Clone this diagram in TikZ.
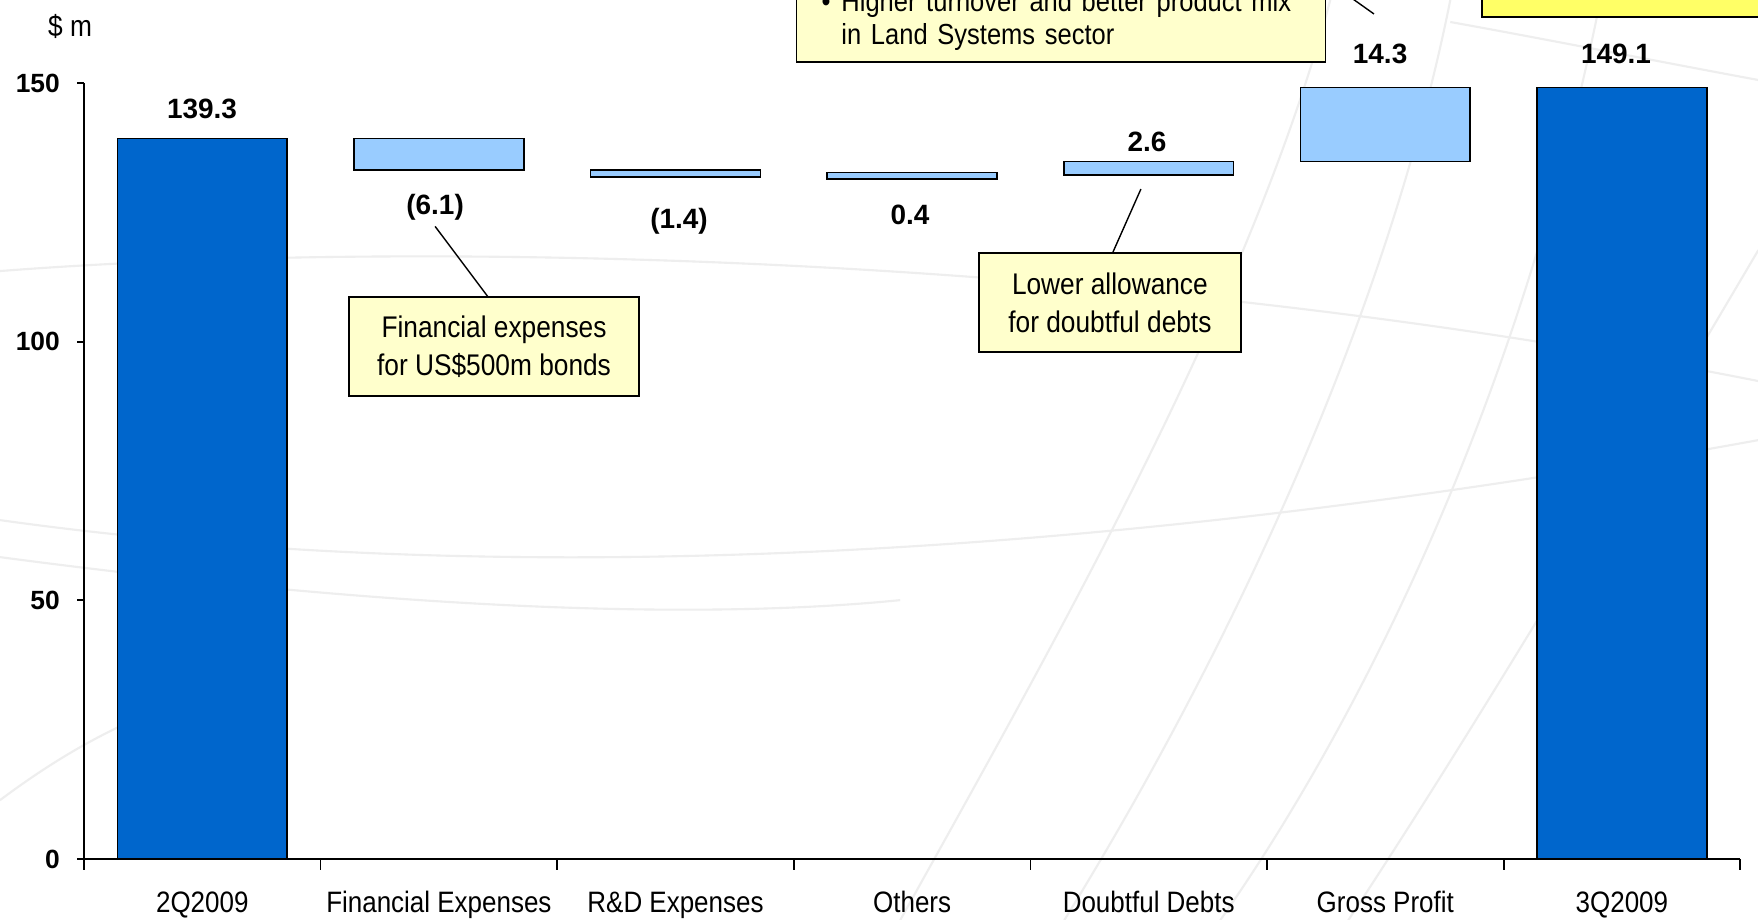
\documentclass[tikz,border=0pt]{standalone}
\usepackage{fontspec}
\setmainfont{Liberation Sans}
\newfontfamily\narrowfont[FakeStretch=0.88]{Liberation Sans}
\usetikzlibrary{positioning}

\definecolor{darkbar}{HTML}{0066CC}
\definecolor{lightbar}{HTML}{99CCFF}
\definecolor{notefill}{HTML}{FFFFCC}
\definecolor{brightnote}{HTML}{FFFF66}

\tikzset{
  total/.style={draw=black, line width=0.9pt, fill=darkbar},
  delta/.style={draw=black, line width=0.9pt, fill=lightbar},
  value/.style={font=\fontsize{15.9}{18}\selectfont\bfseries},
  catlabel/.style={font=\narrowfont\fontsize{16.8}{19}\selectfont, anchor=base},
  ylabel/.style={font=\fontsize{15}{18}\selectfont\bfseries, anchor=east},
  note/.style={draw=black, line width=0.8pt, fill=notefill, align=center,
    font=\narrowfont\fontsize{17}{21.5}\selectfont},
  pointer/.style={line width=0.8pt},
  watermark/.style={gray!13, line width=1.2pt}
}

\begin{document}
\begin{tikzpicture}[x=4.732cm, y=0.10346cm]

    % --- Canvas ---
    \useasboundingbox (-0.355,-11.79) rectangle (7.0752,166.05);
    \clip (-0.355,-11.79) rectangle (7.0752,166.05);
    \fill[white] (-0.355,-11.79) rectangle (7.0752,166.05);

    % --- Globe watermark (pixel units) ---
    \begin{scope}[shift={(-0.355,166.05)}, x=0.02cm, y=-0.02cm]
        \draw[watermark] (0,271) .. controls (400,240) and (1100,250) .. (1758,381);
        \draw[watermark] (0,520) .. controls (500,590) and (1100,560) .. (1758,440);
        \draw[watermark] (0,557) .. controls (400,610) and (700,620) .. (900,600);
        \draw[watermark] (900,920) .. controls (1050,650) and (1250,300) .. (1330,0);
        \draw[watermark] (1064,920) .. controls (1200,700) and (1380,350) .. (1450,0);
        \draw[watermark] (1220,920) .. controls (1360,720) and (1520,400) .. (1600,0);
        \draw[watermark] (1348,920) .. controls (1480,720) and (1640,450) .. (1758,250);
        \draw[watermark] (1450,22) .. controls (1550,40) and (1650,60) .. (1758,80);
        \draw[watermark] (0,800) .. controls (80,740) and (160,700) .. (260,680);
    \end{scope}

    % --- Bars ---
    \draw[total] (0.141,0) rectangle (0.859,139.3);
    \draw[delta] (1.141,139.3) rectangle (1.859,133.2);
    \draw[delta] (2.141,133.2) rectangle (2.859,131.8);
    \draw[delta] (3.141,131.5) rectangle (3.859,132.7); % thin bar, kept visible
    \draw[delta] (4.141,132.2) rectangle (4.859,134.8);
    \draw[delta] (5.141,134.8) rectangle (5.859,149.1);
    \draw[total] (6.141,0) rectangle (6.859,149.1);

    % --- Axes ---
    \draw[line width=1.3pt] (0,150) -- (0,0) -- (7,0);
    \foreach \v in {0,50,100,150} \draw[line width=1pt] (0,\v) -- (-0.03,\v);
    \foreach \i in {0,...,7} \draw[line width=1pt] (\i,0) -- (\i,-2.07);

    \node[ylabel] (y0) at (-0.076,0) {0};
    \node[ylabel] (y50) at (-0.076,50) {50};
    \node[ylabel] (y100) at (-0.076,100) {100};
    \node[ylabel] (y150) at (-0.076,150) {150};
    \node[font=\narrowfont\fontsize{17}{20}\selectfont] (unit) at (-0.059,161) {\$ m};

    % --- Categories ---
    \node[catlabel] (c0) at (0.5,-10.44) {2Q2009};
    \node[catlabel] (c1) at (1.5,-10.44) {Financial Expenses};
    \node[catlabel] (c2) at (2.5,-10.44) {R\&D Expenses};
    \node[catlabel] (c3) at (3.5,-10.44) {Others};
    \node[catlabel] (c4) at (4.5,-10.44) {Doubtful Debts};
    \node[catlabel] (c5) at (5.5,-10.44) {Gross Profit};
    \node[catlabel] (c6) at (6.5,-10.44) {3Q2009};

    % --- Values ---
    \node[value] (v0) at (0.499,145.0) {139.3};
    \node[value] (v1) at (1.484,126.0) {(6.1)};
    \node[value] (v2) at (2.515,123.3) {(1.4)};
    \node[value] (v3) at (3.491,124.5) {0.4};
    \node[value] (v4) at (4.493,138.6) {2.6};
    \node[value] (v5) at (5.478,155.6) {14.3};
    \node[value] (v6) at (6.475,155.6) {149.1};

    % --- Callouts ---
    \node[note, minimum width=5.8cm, minimum height=1.98cm] (feNote) at (1.733,99.07)
        {Financial expenses\\for US\$500m bonds};
    \node[note, minimum width=5.24cm, minimum height=1.98cm] (ddNote) at (4.336,107.58)
        {Lower allowance\\for doubtful debts};
    \node[note, anchor=south west, align=left, inner xsep=2pt, inner ysep=6.6pt,
        text width=10.44cm, font=\narrowfont\fontsize{16.5}{18.7}\selectfont] (gpNote) at (3.009,153.9)
        {\mbox{\hspace*{12.2pt}\makebox[11.3pt][l]{\textbullet}Higher turnover and better product mix}\\
        \mbox{\hspace*{23.5pt}in Land Systems sector}};
    \draw[line width=0.8pt, fill=brightnote] (5.909,162.8) rectangle (7.2,180);

    \draw[pointer] (v1.south) -- ([xshift=-0.13cm]feNote.north);
    \coordinate (ddTip) at (4.467,129.5);
    \draw[pointer] (ddTip) -- ([xshift=0.06cm]ddNote.north);
    \coordinate (gpFrom) at (5.309,168.0);
    \coordinate (gpTip) at (5.452,163.35);
    \draw[pointer] (gpFrom) -- (gpTip);

\end{tikzpicture}
\end{document}
